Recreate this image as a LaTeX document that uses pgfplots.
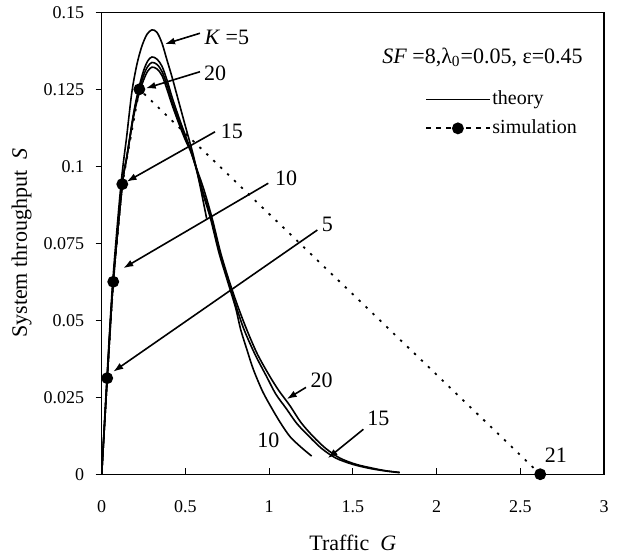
\documentclass[border=0pt]{standalone}
\usepackage{fontspec}
\setmainfont{Liberation Serif}
\usepackage{pgfplots}
\pgfplotsset{compat=1.18}
\usetikzlibrary{arrows.meta}

\newcommand{\annfont}{\fontsize{11}{12}\selectfont}
\pgfplotsset{
  simlegend/.style={legend image code/.code={\draw[mark repeat=2,mark phase=2,##1,
    dash pattern=on 2.4pt off 2.6pt]
    plot coordinates {(0pt,0pt) (15.8pt,0pt) (31.6pt,0pt)};}},
}

\begin{document}
\begin{tikzpicture}
\begin{axis}[
  scale only axis, width=251.2pt, height=231pt,
  xmin=0, xmax=3, ymin=0, ymax=0.15,
  xtick={0,0.5,1,1.5,2,2.5,3}, xticklabels={0,0.5,1,1.5,2,2.5,3},
  ytick={0,0.025,0.05,0.075,0.1,0.125,0.15},
  yticklabels={0,0.025,0.05,0.075,0.1,0.125,0.15},
  xtick pos=bottom, ytick pos=left, tick align=inside,
  major tick length=3pt,
  y tick style={xshift=-3pt},
  tick style={line width=0.6pt, black},
  axis line style={line width=0.6pt},
  xticklabel style={font=\fontsize{9}{10}\selectfont, yshift=-9.7pt},
  yticklabel style={font=\fontsize{9}{10}\selectfont, xshift=-5.3pt},
  xlabel={Traffic\ \ \textit{G}},
  ylabel={System throughput\ \ \textit{S}},
  label style={font=\fontsize{11}{12}\selectfont},
  xlabel style={at={([yshift=-34.3pt]axis description cs:0.5,0)}, anchor=center},
  ylabel style={at={([xshift=-40pt]axis description cs:0,0.5)}, anchor=center},
  legend style={draw=none, fill=none, inner sep=0pt,
    at={(axis cs:1.931,0.1170)}, anchor=west,
    font=\fontsize{10}{11}\selectfont,
    nodes={inner sep=1pt}, row sep=4pt},
  legend cell align=left,
  legend image code/.code={\draw[mark repeat=2,mark phase=2,#1]
    plot coordinates {(0pt,0pt) (15.8pt,0pt) (31.6pt,0pt)};},
]
% theory, K=5
\addplot[black, line width=0.8pt, smooth, tension=0.5] coordinates {
  (0,0) (0.03,0.030) (0.066,0.0625) (0.115,0.094) (0.15,0.110)
  (0.18,0.124) (0.21,0.133) (0.24,0.139) (0.27,0.1428) (0.30,0.1443)
  (0.33,0.1435) (0.36,0.140) (0.39,0.1345) (0.42,0.129) (0.46,0.121)
  (0.50,0.113) (0.55,0.103) (0.59,0.093) (0.627,0.083)};
\addlegendentry{theory}
% theory, K=10
\addplot[black, line width=0.8pt, smooth, tension=0.5, forget plot] coordinates {
  (0,0) (0.033,0.031) (0.069,0.0625) (0.123,0.094) (0.15,0.103)
  (0.19,0.117) (0.22,0.125) (0.25,0.131) (0.275,0.1342) (0.30,0.1355)
  (0.33,0.1348) (0.36,0.1325) (0.39,0.128) (0.42,0.1225) (0.46,0.116)
  (0.50,0.110) (0.53,0.1055) (0.56,0.100) (0.60,0.092) (0.65,0.083)
  (0.70,0.072) (0.75,0.063) (0.80,0.054) (0.83,0.047) (0.87,0.040)
  (0.906,0.034) (0.96,0.027) (1.015,0.0215) (1.07,0.0165) (1.125,0.0122)
  (1.19,0.0088) (1.254,0.0059)};
% theory, K=15
\addplot[black, line width=0.8pt, smooth, tension=0.5, forget plot] coordinates {
  (0,0) (0.033,0.031) (0.069,0.0625) (0.123,0.094) (0.15,0.103)
  (0.19,0.1165) (0.22,0.124) (0.25,0.1295) (0.275,0.1324) (0.30,0.1337)
  (0.33,0.1331) (0.36,0.1308) (0.39,0.1265) (0.42,0.121) (0.46,0.115)
  (0.50,0.109) (0.53,0.1055) (0.56,0.1005) (0.60,0.0925) (0.655,0.083)
  (0.705,0.072) (0.755,0.063) (0.80,0.055) (0.85,0.047) (0.915,0.039)
  (0.985,0.0317) (1.04,0.026) (1.10,0.0215) (1.165,0.0165) (1.24,0.0122)
  (1.315,0.0083) (1.40,0.0052) (1.50,0.0032) (1.60,0.0019) (1.69,0.0011)
  (1.78,0.0005)};
% theory, K=20
\addplot[black, line width=0.8pt, smooth, tension=0.5, forget plot] coordinates {
  (0,0) (0.033,0.031) (0.069,0.0625) (0.123,0.094) (0.15,0.103)
  (0.19,0.116) (0.22,0.123) (0.25,0.128) (0.275,0.1309) (0.30,0.1322)
  (0.33,0.1316) (0.36,0.1295) (0.39,0.125) (0.42,0.120) (0.46,0.114)
  (0.50,0.1085) (0.53,0.105) (0.56,0.1003) (0.61,0.0925) (0.66,0.083)
  (0.71,0.072) (0.76,0.063) (0.81,0.055) (0.866,0.047) (0.93,0.039)
  (1.005,0.0317) (1.06,0.027) (1.125,0.0222) (1.19,0.0168) (1.264,0.0122)
  (1.34,0.0083) (1.424,0.0052) (1.52,0.0032) (1.623,0.0019) (1.70,0.0011)
  (1.78,0.0006)};
% simulation
\addplot[black, line width=0.9pt, dash pattern=on 1.2pt off 3.6pt,
  mark=*, mark size=2.5pt, mark options={solid, fill=black}, simlegend] coordinates {
  (0.033,0.0312) (0.069,0.0625) (0.123,0.0942) (0.225,0.125) (2.619,0)};
\addlegendentry{simulation}

\node[anchor=base east, inner sep=0pt, font=\fontsize{11}{12}\selectfont]
  at (axis cs:2.875,0.1334)
  {\textit{SF} =8,λ\textsubscript{0}=0.05, ε=0.45};

% annotations
\begin{scope}[line width=0.8pt, -{Latex[length=5pt,width=3.5pt]}]
\draw (axis cs:0.587,0.1432) -- (axis cs:0.378,0.1397);
\draw (axis cs:0.587,0.1307) -- (axis cs:0.263,0.1253);
\draw (axis cs:0.677,0.1112) -- (axis cs:0.149,0.0950);
\draw (axis cs:0.995,0.0945) -- (axis cs:0.129,0.0669);
\draw (axis cs:1.288,0.0793) -- (axis cs:0.069,0.0333);
\draw (axis cs:1.220,0.0282) -- (axis cs:1.105,0.0244);
\draw (axis cs:1.563,0.0146) -- (axis cs:1.350,0.0052);
\end{scope}
\begin{scope}[every node/.style={font=\annfont, inner sep=0pt}]
\node at (axis cs:0.747,0.1419) {\textit{K} =5};
\node at (axis cs:0.677,0.1302) {20};
\node at (axis cs:0.777,0.1115) {15};
\node at (axis cs:1.101,0.0961) {10};
\node at (axis cs:1.348,0.0810) {5};
\node at (axis cs:1.314,0.0306) {20};
\node at (axis cs:1.652,0.0182) {15};
\node at (axis cs:0.995,0.0111) {10};
\node at (axis cs:2.713,0.0063) {21};
\end{scope}
\end{axis}
\pgfresetboundingbox
\path ([xshift=-50.85pt,yshift=-41.85pt]current axis.south west)
  rectangle ([xshift=12pt,yshift=6.15pt]current axis.north east);
\end{tikzpicture}
\end{document}
